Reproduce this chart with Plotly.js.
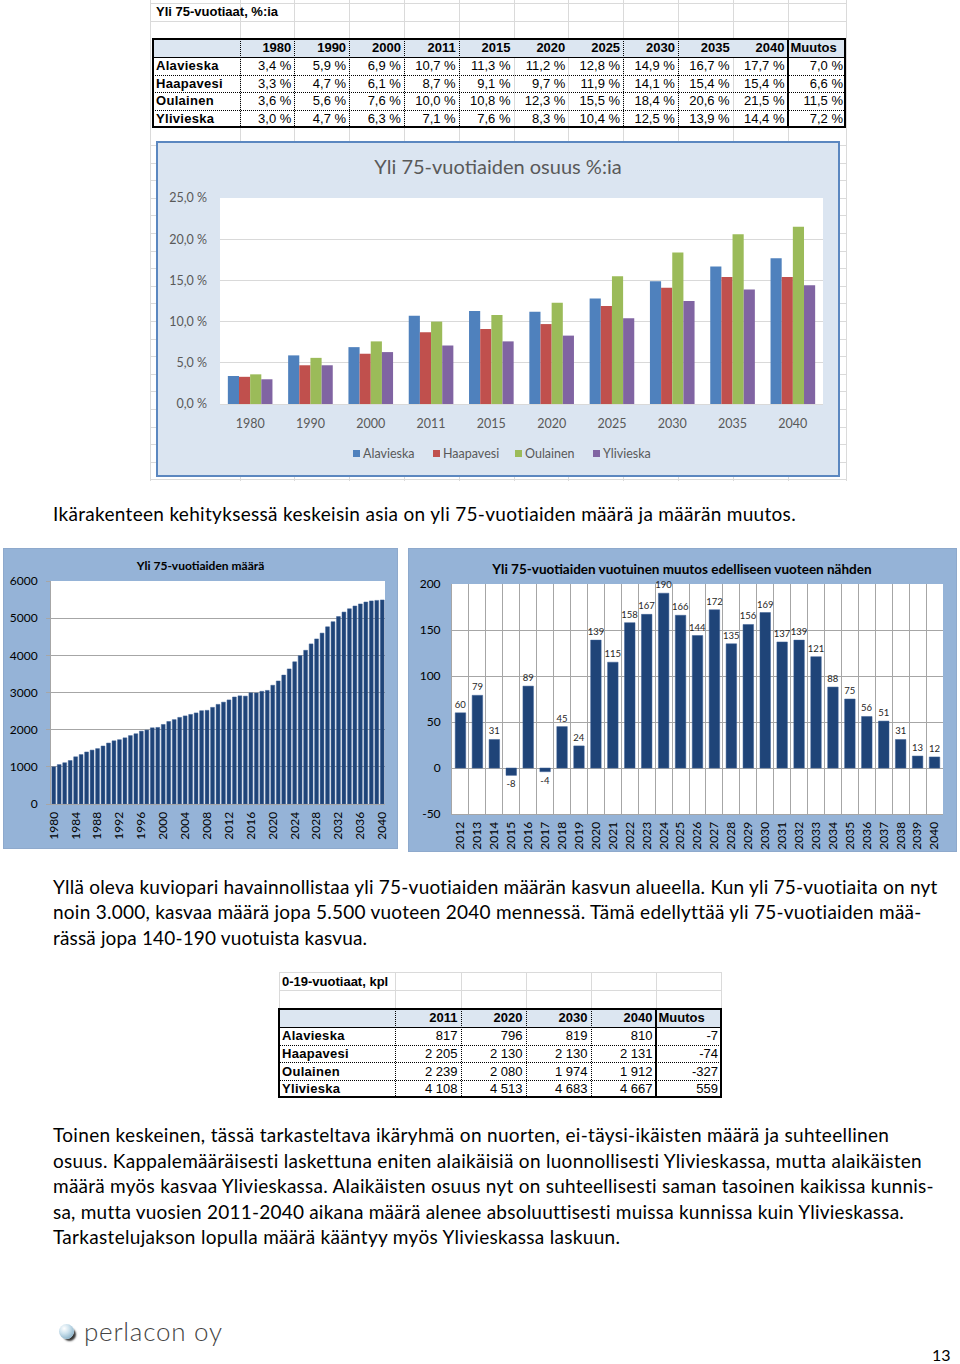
<!DOCTYPE html>
<html><head><meta charset="utf-8">
<script src="https://cdn.plot.ly/plotly-3.0.1.min.js"></script>
<style>
html,body{margin:0;padding:0;background:#fff;}
body{width:960px;height:1364px;position:relative;overflow:hidden;font-family:Lato,"Open Sans",sans-serif;}
.abs{position:absolute;}
.cell{position:absolute;display:flex;align-items:center;font-family:"Liberation Sans",Arial,sans-serif;font-size:13px;color:#000;box-sizing:border-box;white-space:nowrap;}
.line{position:absolute;white-space:pre;font-family:Lato,sans-serif;font-size:19px;color:#000;line-height:22px;}
.leg{position:absolute;display:flex;align-items:center;font-family:Lato,sans-serif;font-size:12.5px;color:#595959;white-space:nowrap;}
.leg i{display:inline-block;width:7px;height:7px;margin-right:3px;}
</style></head><body>
<div id="layer"></div>
<div id="c1wrap" class="abs" style="left:156px;top:141px;width:684px;height:336px;border:2px solid #5b87c0;box-sizing:border-box;background:#dbe5f1;"><div id="c1"></div></div>
<div id="c2wrap" class="abs" style="left:3px;top:548px;width:395px;height:301px;border:1px solid #8ea9cc;box-sizing:border-box;background:#95b3d7;"><div id="c2"></div></div>
<div id="c3wrap" class="abs" style="left:408px;top:548px;width:549px;height:304px;border:1px solid #8ea9cc;box-sizing:border-box;background:#95b3d7;"><div id="c3"></div></div>
<div id="layer2"></div>
<script>
// ---------------- DATA ----------------
const shareYears = ['1980','1990','2000','2011','2015','2020','2025','2030','2035','2040'];
const shareAlavieska = [3.4,5.9,6.9,10.7,11.3,11.2,12.8,14.9,16.7,17.7];
const shareHaapavesi = [3.3,4.7,6.1,8.7,9.1,9.7,11.9,14.1,15.4,15.4];
const shareOulainen  = [3.6,5.6,7.6,10.0,10.8,12.3,15.5,18.4,20.6,21.5];
const shareYlivieska = [3.0,4.7,6.3,7.1,7.6,8.3,10.4,12.5,13.9,14.4];
const shareMuutos    = [7.0,6.6,11.5,7.2];
const municipalities = ['Alavieska','Haapavesi','Oulainen','Ylivieska'];
const shareTickVals  = [0,5,10,15,20,25];
const shareTickText  = ['0,0 %','5,0 %','10,0 %','15,0 %','20,0 %','25,0 %'];

const countYears = [1980,1981,1982,1983,1984,1985,1986,1987,1988,1989,1990,1991,1992,1993,1994,1995,1996,1997,1998,1999,2000,2001,2002,2003,2004,2005,2006,2007,2008,2009,2010,2011,2012,2013,2014,2015,2016,2017,2018,2019,2020,2021,2022,2023,2024,2025,2026,2027,2028,2029,2030,2031,2032,2033,2034,2035,2036,2037,2038,2039,2040];
const countValues = [1000,1060,1110,1170,1270,1330,1400,1450,1490,1560,1640,1700,1730,1780,1840,1890,1960,1990,2050,2060,2140,2220,2270,2330,2370,2410,2450,2510,2520,2600,2680,2740,2800,2879,2910,2902,2991,2987,3032,3056,3195,3310,3468,3635,3825,3991,4135,4307,4442,4598,4767,4904,5043,5164,5252,5327,5383,5434,5465,5478,5490];
const countTickYears = [1980,1984,1988,1992,1996,2000,2004,2008,2012,2016,2020,2024,2028,2032,2036,2040];

const changeYears = [2012,2013,2014,2015,2016,2017,2018,2019,2020,2021,2022,2023,2024,2025,2026,2027,2028,2029,2030,2031,2032,2033,2034,2035,2036,2037,2038,2039,2040];
const changeValues = [60,79,31,-8,89,-4,45,24,139,115,158,167,190,166,144,172,135,156,169,137,139,121,88,75,56,51,31,13,12];
const changeTickVals = [-50,0,50,100,150,200];
const changeTickText = ['-50','0','50','100','150','200'];

const youthYears = ['2011','2020','2030','2040'];
const youthAlavieska = [817,796,819,810];
const youthHaapavesi = [2205,2130,2130,2131];
const youthOulainen  = [2239,2080,1974,1912];
const youthYlivieska = [4108,4513,4683,4667];
const youthMuutos    = [-7,-74,-327,559];

// ---------------- helpers ----------------
const layer = document.getElementById('layer');
const layer2 = document.getElementById('layer2');
function box(x,y,w,h,css){const d=document.createElement('div');d.className='abs';d.style.cssText=`left:${x}px;top:${y}px;width:${w}px;height:${h}px;`+(css||'');layer.appendChild(d);return d;}
function hline(x1,x2,y,st){box(x1,y,x2-x1,0,'border-top:'+st+';');}
function vline(x,y1,y2,st){box(x,y1,0,y2-y1,'border-left:'+st+';');}
function cell(x1,x2,y1,y2,text,align,css){const d=document.createElement('div');d.className='cell';d.style.cssText=`left:${x1}px;top:${y1}px;width:${x2-x1}px;height:${y2-y1}px;justify-content:${align==='r'?'flex-end':'flex-start'};padding:0 3px;`+(css||'');d.textContent=text;layer.appendChild(d);return d;}
const pct = v => v.toFixed(1).replace('.',',')+' %';
const num = v => (v<0?'-':'')+String(Math.abs(v)).replace(/\B(?=(\d{3})+(?!\d))/g,'\u00a0');
const GRID='1px solid #dadada';

// ---------------- top table ----------------
(function(){
  const cols=[153,239.5,294.3,349.1,403.9,458.7,513.5,568.3,623.1,677.9,732.7,787.5,846];
  const rows=[38.5,57,74.5,92,109.5,127.5];
  [150].concat(cols.slice(1)).forEach(x=>vline(x,0,481,GRID));
  [2.5,20.5].forEach(y=>hline(150,846,y,GRID));
  for(let y=145;y<482;y+=17.6) hline(150,846,y,GRID);
  box(153,rows[0],846-153,rows[1]-rows[0],'background:#dce6f1;');
  cell(153,450,2.5,20.5,'Yli 75-vuotiaat, %:ia','l','font-weight:bold;');
  const seriesT=[shareAlavieska,shareHaapavesi,shareOulainen,shareYlivieska];
  shareYears.forEach((yr,i)=>cell(cols[i+1],cols[i+2],rows[0],rows[1],yr,'r','font-weight:bold;'));
  cell(cols[11],cols[12],rows[0],rows[1],'Muutos','l','font-weight:bold;');
  municipalities.forEach((m,r)=>{
    cell(cols[0],cols[1],rows[r+1],rows[r+2],m,'l','font-weight:bold;letter-spacing:0.3px;');
    seriesT[r].forEach((v,i)=>cell(cols[i+1],cols[i+2],rows[r+1],rows[r+2],pct(v),'r'));
    cell(cols[11],cols[12],rows[r+1],rows[r+2],pct(shareMuutos[r]),'r');
  });
  hline(153,846,rows[1],'1px solid #000');
  [2,3,4].forEach(k=>hline(153,846,rows[k],'1px dotted #000'));
  [1,2,3,4,5,8,9].forEach(k=>vline(cols[k],rows[0],rows[5],'1px dotted #000'));
  vline(cols[11]-1,rows[0],rows[5],'2px solid #000');
  box(152,37.5,846-152,rows[5]-37.5,'border:2px solid #000;box-sizing:border-box;');
})();

// ---------------- bottom table ----------------
(function(){
  const cols=[279,394.5,460.5,525.5,590.5,655.5,721];
  const rows=[1008.5,1027,1044.5,1062,1080,1097.5];
  cols.forEach(x=>vline(x,972,1009,GRID));
  [972,990].forEach(y=>hline(279,721,y,GRID));
  box(279,rows[0],721-279,rows[1]-rows[0],'background:#dce6f1;');
  cell(279,460,972,990,'0-19-vuotiaat, kpl','l','font-weight:bold;');
  const seriesB=[youthAlavieska,youthHaapavesi,youthOulainen,youthYlivieska];
  youthYears.forEach((yr,i)=>cell(cols[i+1],cols[i+2],rows[0],rows[1],yr,'r','font-weight:bold;'));
  cell(cols[5],cols[6],rows[0],rows[1],'Muutos','l','font-weight:bold;');
  municipalities.forEach((m,r)=>{
    cell(cols[0],cols[1],rows[r+1],rows[r+2],m,'l','font-weight:bold;letter-spacing:0.3px;');
    seriesB[r].forEach((v,i)=>cell(cols[i+1],cols[i+2],rows[r+1],rows[r+2],num(v),'r'));
    cell(cols[5],cols[6],rows[r+1],rows[r+2],num(youthMuutos[r]),'r');
  });
  hline(279,721,rows[1],'1px solid #000');
  [2,3,4].forEach(k=>hline(279,721,rows[k],'1px dotted #000'));
  [1,2,3,4].forEach(k=>vline(cols[k],rows[0],rows[5],'1px dotted #000'));
  vline(cols[5]-1,rows[0],rows[5],'2px solid #000');
  box(278,rows[0]-1,721-278+1,rows[5]-rows[0]+1,'border:2px solid #000;box-sizing:border-box;');
})();

// ---------------- text ----------------
function line(x,cy,text,w,css){const d=document.createElement('div');d.className='line';d.style.left=x+'px';d.style.top=(cy-11)+'px';if(css)d.style.cssText+=css;d.textContent=text;if(w)d.dataset.w=w;layer.appendChild(d);return d;}
line(53,514,'Ikärakenteen kehityksessä keskeisin asia on yli 75-vuotiaiden määrä ja määrän muutos.',743);
line(53,887,'Yllä oleva kuviopari havainnollistaa yli 75-vuotiaiden määrän kasvun alueella. Kun yli 75-vuotiaita on nyt',885);
line(53,912,'noin 3.000, kasvaa määrä jopa 5.500 vuoteen 2040 mennessä. Tämä edellyttää yli 75-vuotiaiden mää-',868);
line(53,938,'rässä jopa 140-190 vuotuista kasvua.',314);
line(53,1135,'Toinen keskeinen, tässä tarkasteltava ikäryhmä on nuorten, ei-täysi-ikäisten määrä ja suhteellinen',836);
line(53,1161,'osuus. Kappalemääräisesti laskettuna eniten alaikäisiä on luonnollisesti Ylivieskassa, mutta alaikäisten',868);
line(53,1186,'määrä myös kasvaa Ylivieskassa. Alaikäisten osuus nyt on suhteellisesti saman tasoinen kaikissa kunnis-',881);
line(53,1212,'sa, mutta vuosien 2011-2040 aikana määrä alenee absoluuttisesti muissa kunnissa kuin Ylivieskassa.',850);
line(53,1237,'Tarkastelujakson lopulla määrä kääntyy myös Ylivieskassa laskuun.',567);
// logo
box(59,1324,15,15,'border-radius:50%;background:radial-gradient(circle at 35% 30%,#ffffff 0%,#cfe3ee 35%,#8fb6cc 75%,#6f98b0 100%);box-shadow:3px 3px 2px -1px #333;');
line(84,1332,'perlacon oy',138,'font-size:26px;font-weight:300;color:#444;line-height:30px;top:1316px;');
line(932,1355,'13',null,'font-size:16px;');

// legend for chart 1 (HTML, built from the series names/colours)
const colors=['#4f81bd','#c0504d','#9bbb59','#8064a2'];
const legLefts=[353,433,515,593];
municipalities.forEach((m,i)=>{
  const d=document.createElement('div');d.className='leg';d.style.left=legLefts[i]+'px';d.style.top='445px';d.style.height='16px';
  d.innerHTML='<i style="background:'+colors[i]+'"></i>';d.appendChild(document.createTextNode(m));layer2.appendChild(d);
});

function fitLines(){
  document.querySelectorAll('.line').forEach(d=>{
    if(!d.dataset.w) return;
    d.style.letterSpacing='0px';
    const t=+d.dataset.w; const w=d.getBoundingClientRect().width; const n=d.textContent.length-1;
    let ls=(t-w)/n; if(ls>2)ls=2; if(ls<-2)ls=-2; d.style.letterSpacing=ls.toFixed(3)+'px';
  });
}
fitLines();

// ---------------- charts ----------------
const F='Lato, "Open Sans", sans-serif';
const cfg={displayModeBar:false,staticPlot:true};

const seriesC=[shareAlavieska,shareHaapavesi,shareOulainen,shareYlivieska];
Plotly.newPlot('c1', municipalities.map((m,i)=>({type:'bar',name:m,x:shareYears,y:seriesC[i],marker:{color:colors[i]}})), {
  width:680,height:332,paper_bgcolor:'#dbe5f1',plot_bgcolor:'#ffffff',
  margin:{l:62,r:15,t:55,b:71,pad:0},
  title:{text:'Yli 75-vuotiaiden osuus %:ia',font:{family:F,size:20,color:'#595959'},x:0.5,xref:'container',xanchor:'center',y:1-24/332,yref:'container',yanchor:'middle'},
  barmode:'group',bargap:0.26,bargroupgap:0,
  xaxis:{type:'category',tickfont:{family:F,size:12.5,color:'#595959'},ticks:'',showline:true,linecolor:'#d9d9d9',ticklabelstandoff:8},
  yaxis:{range:[0,25],tickvals:shareTickVals,ticktext:shareTickText,gridcolor:'#d9d9d9',zeroline:false,tickfont:{family:F,size:12.5,color:'#595959'},ticklabelstandoff:12},
  showlegend:false
}, cfg);

Plotly.newPlot('c2', [{type:'bar',x:countYears,y:countValues,marker:{color:'#1f4478',line:{color:'#3a5f95',width:0.5}}}], {
  width:393,height:299,paper_bgcolor:'#95b3d7',plot_bgcolor:'#ffffff',
  margin:{l:47,r:12,t:32,b:44,pad:0},
  title:{text:'<b>Yli 75-vuotiaiden määrä</b>',font:{family:F,size:12,color:'#000'},x:0.5,xref:'container',xanchor:'center',y:1-17/299,yref:'container',yanchor:'middle'},
  bargap:0.3,showlegend:false,
  xaxis:{range:[1979.5,2040.5],tickvals:countTickYears,tickangle:-90,tickfont:{family:F,size:12,color:'#000'},ticks:'',showgrid:false,zeroline:false,showline:true,linecolor:'#a6a6a6',automargin:false,ticklabelstandoff:2},
  yaxis:{range:[0,6000],dtick:1000,gridcolor:'#a6a6a6',zeroline:false,showline:true,linecolor:'#a6a6a6',ticks:'outside',ticklen:4,tickcolor:'#a6a6a6',tickfont:{family:F,size:12,color:'#000'},ticklabelstandoff:6,automargin:false}
}, cfg);

Plotly.newPlot('c3', [{type:'bar',x:changeYears,y:changeValues,text:changeValues.map(String),textposition:'outside',cliponaxis:false,constraintext:'none',textfont:{family:F,size:9.5,color:'#262626'},marker:{color:'#1f4478',line:{color:'#3a5f95',width:0.5}}}], {
  width:547,height:302,paper_bgcolor:'#95b3d7',plot_bgcolor:'#ffffff',
  margin:{l:43,r:13,t:35,b:37,pad:0},
  title:{text:'<b>Yli 75-vuotiaiden vuotuinen muutos edelliseen vuoteen nähden</b>',font:{family:F,size:13.5,color:'#000'},x:0.499,xref:'container',xanchor:'center',y:1-20/302,yref:'container',yanchor:'middle'},
  bargap:0.38,showlegend:false,
  xaxis:{range:[2011.5,2040.5],tickvals:changeYears,tickangle:-90,tickfont:{family:F,size:12,color:'#000'},ticks:'',showgrid:false,zeroline:false,showline:true,linecolor:'#a6a6a6',automargin:false,ticklabelstandoff:2,
    minor:{tickmode:'linear',tick0:2011.5,dtick:1,showgrid:true,gridcolor:'#a6a6a6',ticks:''}},
  yaxis:{range:[-50,200],tickvals:changeTickVals,ticktext:changeTickText,gridcolor:'#a6a6a6',zeroline:true,zerolinecolor:'#a6a6a6',showline:true,linecolor:'#a6a6a6',tickfont:{family:F,size:12,color:'#000'},ticklabelstandoff:8,automargin:false}
}, cfg);

if(document.fonts&&document.fonts.ready){document.fonts.ready.then(fitLines);}
</script>
</body></html>
